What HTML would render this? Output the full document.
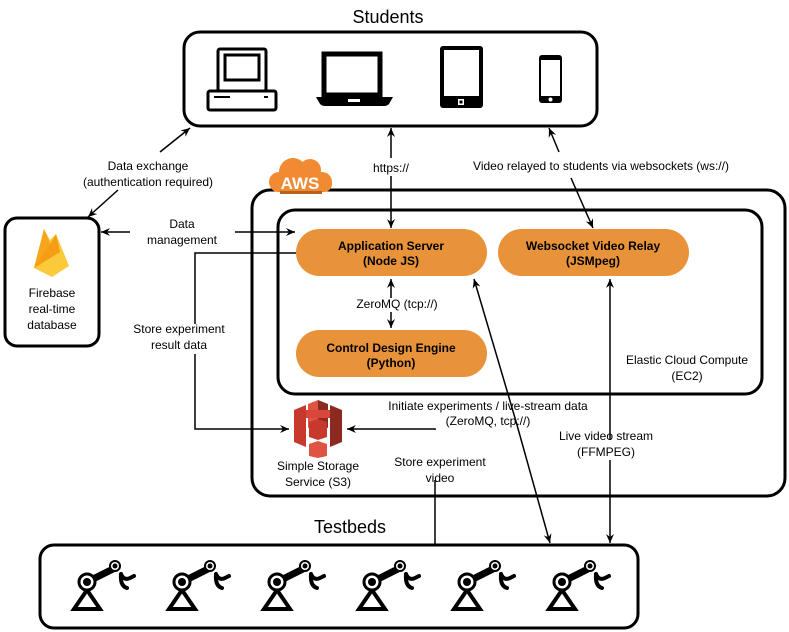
<!DOCTYPE html>
<html><head><meta charset="utf-8"><style>
body{margin:0;background:#fff}
svg{display:block;font-family:"Liberation Sans",Arial,sans-serif}
</style></head><body>
<svg width="789" height="632" viewBox="0 0 789 632" xmlns="http://www.w3.org/2000/svg">
<defs>
<marker id="a" markerWidth="10" markerHeight="10" refX="9" refY="5" orient="auto-start-reverse" markerUnits="userSpaceOnUse">
<path d="M0,1 L9,5 L0,9 L3,5 z" fill="#000"/></marker>
<g id="robot">
<path d="M-13,27 L0,8 L13,27 Z" fill="none" stroke="#000" stroke-width="4" stroke-linejoin="miter"/>
<line x1="4" y1="-2" x2="26" y2="-13" stroke="#000" stroke-width="7"/>
<circle cx="0" cy="0" r="8" fill="#fff" stroke="#000" stroke-width="3"/>
<circle cx="0" cy="0" r="4" fill="#000"/>
<circle cx="28" cy="-16" r="5" fill="#fff" stroke="#000" stroke-width="2"/>
<circle cx="28" cy="-16" r="2.5" fill="#000"/>
<path d="M34,-8 q3,7 9,4 l4,-2 M34,-8 q-1,12 6,14" fill="none" stroke="#000" stroke-width="4" stroke-linecap="round"/>
</g>
</defs>

<!-- Students -->
<text x="388" y="23" font-size="18" text-anchor="middle">Students</text>
<rect x="184" y="32" width="413" height="94" rx="16" fill="#fff" stroke="#000" stroke-width="3"/>
<rect x="218" y="49" width="48" height="42" rx="2" fill="#fff" stroke="#000" stroke-width="3"/>
<rect x="225" y="55" width="34" height="25" fill="#fff" stroke="#000" stroke-width="3"/>
<rect x="208" y="91" width="68" height="19" rx="2" fill="#fff" stroke="#000" stroke-width="3"/>
<line x1="214" y1="97" x2="230" y2="97" stroke="#000" stroke-width="2"/>
<rect x="264" y="96" width="4" height="2" fill="#000"/>
<rect x="324" y="54" width="56" height="41" fill="#fff" stroke="#000" stroke-width="5"/>
<path d="M316,97 L393,97 L389,104 Q387,106 384,106 L325,106 Q322,106 320,104 Z" fill="#000"/>
<rect x="348" y="99" width="12" height="3" fill="#fff"/>
<rect x="440" y="46" width="43" height="62" rx="3" fill="#000"/>
<rect x="444" y="50" width="35" height="46" fill="#fff"/>
<rect x="458" y="99" width="6" height="6" fill="#fff"/><rect x="459.5" y="100.5" width="3" height="3" fill="#000"/>
<rect x="539" y="55" width="23" height="48" rx="3" fill="#000"/>
<rect x="541" y="60" width="19" height="36" fill="#fff"/>
<circle cx="550.5" cy="99.5" r="2" fill="#fff"/>

<!-- AWS outer -->
<rect x="252" y="190" width="533" height="306" rx="18" fill="#fff" stroke="#000" stroke-width="3"/>
<g fill="#f08a33">
<circle cx="293" cy="172" r="14"/><circle cx="310" cy="170" r="11"/><circle cx="279" cy="182" r="10"/><circle cx="322" cy="182" r="10"/>
<rect x="270" y="176" width="62" height="16" rx="8"/>
</g>
<rect x="280" y="191" width="42" height="3" fill="#b8621f"/>
<text x="300" y="189" font-size="17" font-weight="bold" fill="#fff" text-anchor="middle">AWS</text>
<rect x="278" y="210" width="484" height="184" rx="17" fill="#fff" stroke="#000" stroke-width="3"/>
<text x="687" y="364" font-size="12" text-anchor="middle">Elastic Cloud Compute</text>
<text x="687" y="380" font-size="12" text-anchor="middle">(EC2)</text>

<rect x="296" y="229" width="191" height="47" rx="23.5" fill="#e8923a"/>
<text x="391" y="250" font-size="12" font-weight="bold" text-anchor="middle">Application Server</text>
<text x="391" y="265" font-size="12" font-weight="bold" text-anchor="middle">(Node JS)</text>
<rect x="498" y="229" width="191" height="47" rx="23.5" fill="#e8923a"/>
<text x="593" y="250" font-size="12" font-weight="bold" text-anchor="middle">Websocket Video Relay</text>
<text x="593" y="265" font-size="12" font-weight="bold" text-anchor="middle">(JSMpeg)</text>
<rect x="296" y="330" width="191" height="47" rx="23.5" fill="#e8923a"/>
<text x="391" y="352" font-size="12" font-weight="bold" text-anchor="middle">Control Design Engine</text>
<text x="391" y="367" font-size="12" font-weight="bold" text-anchor="middle">(Python)</text>

<!-- Firebase -->
<rect x="5" y="218" width="94" height="128" rx="12" fill="#fff" stroke="#000" stroke-width="3"/>
<path d="M34,268 L44,229 L50,240 L56,234 L69,266 L52,277 Z" fill="#fbca3b"/>
<path d="M34,268 L44,229 L52,248 Z" fill="#f8a41c"/>
<path d="M34,268 L49,246 L56,234 L60,252 Z" fill="#f59d15"/>
<text x="52" y="297" font-size="12" text-anchor="middle">Firebase</text>
<text x="52" y="313" font-size="12" text-anchor="middle">real-time</text>
<text x="52" y="329" font-size="12" text-anchor="middle">database</text>

<!-- S3 -->
<g>
<path d="M294,410 L306,405 L306,447 L294,442 Z" fill="#c7382d"/>
<path d="M330,405 L342,410 L342,442 L330,447 Z" fill="#8c2a22"/>
<path d="M308,404 L318,400 L318,424 L308,428 Z" fill="#e05243"/>
<path d="M318,400 L328,404 L328,428 L318,424 Z" fill="#8c2a22"/>
<path d="M309,422 L318,419 L327,422 L327,437 L318,440 L309,437 Z" fill="#c7382d"/>
<path d="M309,444 L318,441 L327,444 L327,456 L318,458 L309,456 Z" fill="#e05243"/>
<rect x="306" y="410" width="24" height="8" fill="#d9463a"/>
</g>
<text x="318" y="470" font-size="12" text-anchor="middle">Simple Storage</text>
<text x="318" y="486" font-size="12" text-anchor="middle">Service (S3)</text>

<!-- Testbeds -->
<text x="350" y="533" font-size="18" text-anchor="middle">Testbeds</text>
<rect x="40" y="545" width="598" height="83" rx="14" fill="#fff" stroke="#000" stroke-width="3"/>
<use href="#robot" x="87" y="582"/>
<use href="#robot" x="182" y="582"/>
<use href="#robot" x="277" y="582"/>
<use href="#robot" x="372" y="582"/>
<use href="#robot" x="467" y="582"/>
<use href="#robot" x="562" y="582"/>

<g stroke="#000" stroke-width="1.5" fill="none">
<line x1="391" y1="128" x2="391" y2="158" marker-start="url(#a)"/>
<line x1="391" y1="176" x2="391" y2="228" marker-end="url(#a)"/>
<line x1="160" y1="152" x2="190" y2="128" marker-end="url(#a)"/>
<line x1="118" y1="190" x2="88" y2="217" marker-end="url(#a)"/>
<line x1="549" y1="128" x2="559" y2="152" marker-start="url(#a)"/>
<line x1="571" y1="178" x2="593" y2="228" marker-end="url(#a)"/>
<line x1="130" y1="232" x2="101" y2="232" marker-end="url(#a)"/>
<line x1="235" y1="232" x2="295" y2="232" marker-end="url(#a)"/>
<polyline points="296,253 195,253 195,324"/>
<polyline points="195,354 195,429 289,429" marker-end="url(#a)"/>
<line x1="391" y1="298" x2="391" y2="279" marker-end="url(#a)"/>
<line x1="391" y1="312" x2="391" y2="328" marker-end="url(#a)"/>
<line x1="508" y1="394" x2="474" y2="279" marker-end="url(#a)"/>
<line x1="517" y1="425" x2="550" y2="543" marker-end="url(#a)"/>
<line x1="610" y1="440" x2="610" y2="279" marker-end="url(#a)"/>
<line x1="610" y1="460" x2="610" y2="543" marker-end="url(#a)"/>
<polyline points="435,545 435,480"/>
<polyline points="435,430 435,429 347,429" marker-end="url(#a)"/>
<line x1="508" y1="394" x2="517" y2="425"/>
</g>

<g font-size="12" text-anchor="middle">
<text x="148" y="170">Data exchange</text>
<text x="148" y="186">(authentication required)</text>
<text x="391" y="172">https://</text>
<text x="601" y="170">Video relayed to students via websockets (ws://)</text>
<text x="182" y="228">Data</text>
<text x="182" y="244">management</text>
<text x="179" y="333">Store experiment</text>
<text x="179" y="349">result data</text>
<text x="397" y="308">ZeroMQ (tcp://)</text>
<text x="488" y="410">Initiate experiments / live-stream data</text>
<text x="488" y="425">(ZeroMQ, tcp://)</text>
<text x="606" y="440">Live video stream</text>
<text x="606" y="456">(FFMPEG)</text>
<text x="440" y="466">Store experiment</text>
<text x="440" y="482">video</text>
</g>
</svg>
</body></html>
